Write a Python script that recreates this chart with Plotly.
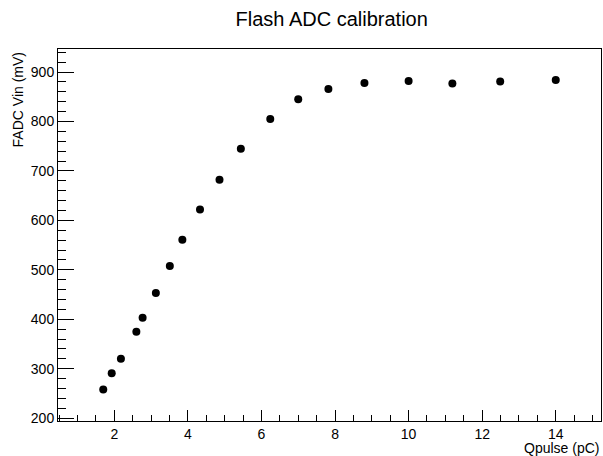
import plotly.graph_objects as go

# Calibration points
qpulse = [1.70, 1.93, 2.18, 2.60, 2.77, 3.13, 3.51, 3.85, 4.33, 4.86,
          5.44, 6.24, 7.00, 7.82, 8.80, 10.0, 11.19, 12.49, 14.0]
fadc_vin = [258, 291, 320, 375, 403, 453, 508, 561, 622, 682,
            745, 805, 845, 866, 878, 882, 877, 881, 884]

x_range = [0.47, 15.23]
y_range = [194.3, 946.7]

font = dict(family="Liberation Sans, Arial, sans-serif", color="black")

fig = go.Figure()
fig.add_trace(go.Scatter(
    x=qpulse,
    y=fadc_vin,
    mode="markers",
    marker=dict(color="black", size=8),
    showlegend=False,
))

axis_common = dict(
    showgrid=False,
    zeroline=False,
    showline=True,
    linecolor="black",
    linewidth=1,
    mirror=True,
    ticks="inside",
    tickcolor="black",
    tickwidth=1,
    tickfont=dict(size=14, **font),
    automargin=False,
)

fig.update_xaxes(
    range=x_range, tick0=0, dtick=2, ticklen=11,
    minor=dict(ticks="inside", dtick=0.5, ticklen=6, tickcolor="black"),
    **axis_common,
)
fig.update_yaxes(
    range=y_range, tick0=0, dtick=100, ticklen=16,
    minor=dict(ticks="inside", dtick=20, ticklen=8, tickcolor="black"),
    **axis_common,
)

fig.update_layout(
    width=603,
    height=456,
    margin=dict(l=58, r=2, t=49, b=35),
    plot_bgcolor="white",
    paper_bgcolor="white",
    font=font,
    title=dict(text="Flash ADC calibration", x=0.504, xref="paper", xanchor="center",
               y=0.958, yanchor="middle", font=dict(size=20, **font)),
    annotations=[
        dict(text="Qpulse (pC)", xref="paper", yref="paper", x=1.0, y=-0.072,
             xanchor="right", yanchor="middle", showarrow=False,
             font=dict(size=14, **font)),
        dict(text="FADC Vin (mV)", xref="paper", yref="paper", x=-0.074, y=0.997,
             xanchor="center", yanchor="top", textangle=-90, showarrow=False,
             font=dict(size=14, **font)),
    ],
)

# drop the browser's default body margin so the figure fills the window
fig.write_html("out.html", config={"displayModeBar": False},
               post_script="document.body.style.margin='0';")
